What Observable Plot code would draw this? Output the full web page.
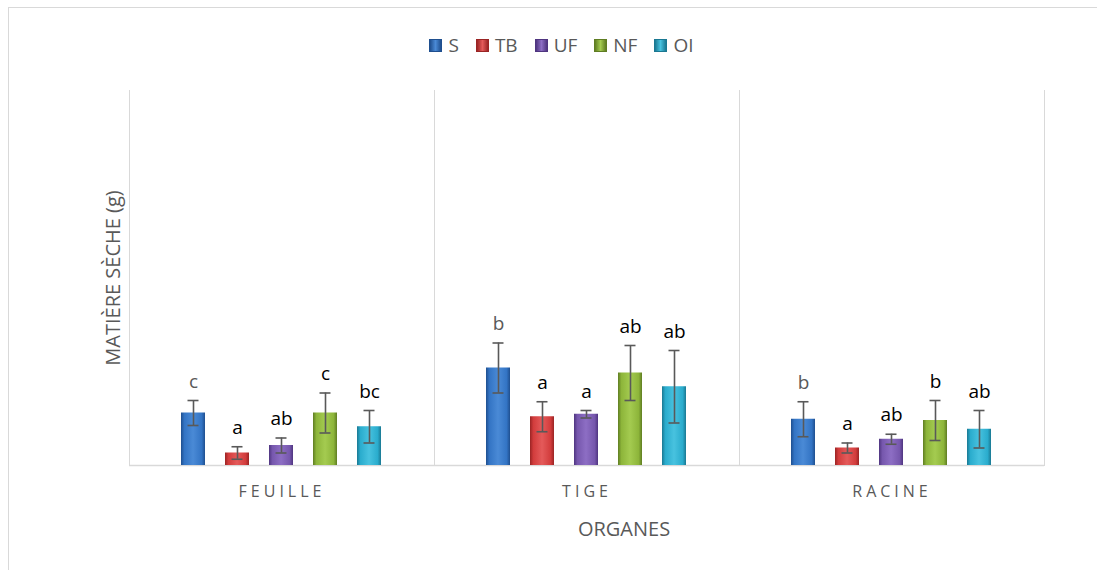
<!DOCTYPE html>
<html><head><meta charset="utf-8">
<script src="https://cdn.jsdelivr.net/npm/d3@7"></script>
<script src="https://cdn.jsdelivr.net/npm/@observablehq/plot@0.6"></script>
<style>
body{margin:0;background:#fff;font-family:"Open Sans",sans-serif;overflow:hidden;}
#wrap{position:relative;width:1097px;height:570px;overflow:hidden;}
#border{position:absolute;left:8px;top:7px;width:1300px;height:800px;border:1px solid #d9d9d9;box-sizing:border-box;}
#legend{position:absolute;top:33px;left:0;width:1123px;height:24px;display:flex;justify-content:center;align-items:center;gap:17px;font-size:19px;color:#595959;}
#legend .item{display:flex;align-items:center;gap:6px;}
#legend .sw{width:13px;height:13px;box-sizing:border-box;}
#chart{position:absolute;top:70px;left:0;}
#ylab{position:absolute;left:112px;top:278px;transform:translate(-50%,-50%) rotate(-90deg);white-space:nowrap;font-size:20px;color:#595959;}
#xlab{position:absolute;left:624px;top:528px;transform:translate(-50%,-50%);white-space:nowrap;font-size:20px;color:#595959;}
g[aria-label="fx-axis tick label"]{font-size:16px;letter-spacing:4px;fill:#595959;font-family:"Open Sans",sans-serif;}
</style>
</head><body>
<div id="wrap">
  <div id="border"></div>
  <div id="legend"></div>
  <div id="chart"></div>
  <div id="ylab">MATIÈRE SÈCHE (g)</div>
  <div id="xlab">ORGANES</div>
</div>
<script>
// Data (order: FEUILLE, TIGE, RACINE)
const organes = ["FEUILLE", "TIGE", "RACINE"];
const series = ["S", "TB", "UF", "NF", "OI"];
const meanS  = [0.42, 0.78, 0.37];
const meanTB = [0.10, 0.39, 0.14];
const meanUF = [0.16, 0.41, 0.21];
const meanNF = [0.42, 0.74, 0.36];
const meanOI = [0.31, 0.63, 0.29];
const errS  = [0.10, 0.20, 0.14];
const errTB = [0.05, 0.12, 0.04];
const errUF = [0.06, 0.03, 0.04];
const errNF = [0.16, 0.22, 0.16];
const errOI = [0.13, 0.29, 0.15];
const letS  = ["c", "b", "b"];
const letTB = ["a", "a", "a"];
const letUF = ["ab", "a", "ab"];
const letNF = ["c", "ab", "b"];
const letOI = ["bc", "ab", "ab"];

const means = {S: meanS, TB: meanTB, UF: meanUF, NF: meanNF, OI: meanOI};
const errs = {S: errS, TB: errTB, UF: errUF, NF: errNF, OI: errOI};
const lets = {S: letS, TB: letTB, UF: letUF, NF: letNF, OI: letOI};

const colors = {
  S:  {dark: "#1f4f8f", base: "#3374c4", light: "#4a8ad6"},
  TB: {dark: "#9a2424", base: "#d23c3c", light: "#e45a5a"},
  UF: {dark: "#4f3580", base: "#7657ad", light: "#8d6ec4"},
  NF: {dark: "#5f7d22", base: "#8db53a", light: "#a4cb50"},
  OI: {dark: "#1a7892", base: "#2aaccd", light: "#48c2df"}
};
const labelColor = {S: "#595959", TB: "#000", UF: "#000", NF: "#000", OI: "#000"};

const rows = [];
for (const s of series) organes.forEach((o, i) => rows.push({
  organe: o, series: s, value: means[s][i], err: errs[s][i], letter: lets[s][i]
}));

const marks = [
  Plot.frame({anchor: "left", stroke: "#d9d9d9"}),
  Plot.frame({anchor: "right", stroke: "#d9d9d9"}),
  Plot.ruleY([0], {stroke: "#d9d9d9", strokeWidth: 1.5})
];
for (const s of series) {
  const d = rows.filter(r => r.series === s);
  marks.push(Plot.barY(d, {fx: "organe", x: "series", y: "value", fill: `url(#grad-${s})`}));
}
marks.push(
  Plot.ruleX(rows, {fx: "organe", x: "series", y1: d => d.value - d.err, y2: d => d.value + d.err, stroke: "#595959", strokeWidth: 1.6}),
  Plot.tickY(rows, {fx: "organe", x: "series", y: d => d.value - d.err, stroke: "#595959", strokeWidth: 1.6, insetLeft: 6.5, insetRight: 6.5}),
  Plot.tickY(rows, {fx: "organe", x: "series", y: d => d.value + d.err, stroke: "#595959", strokeWidth: 1.6, insetLeft: 6.5, insetRight: 6.5})
);
for (const s of series) {
  const d = rows.filter(r => r.series === s);
  marks.push(Plot.text(d, {fx: "organe", x: "series", y: r => r.value + r.err, text: "letter",
    lineAnchor: "bottom", dy: -13, fontSize: 19, fill: labelColor[s], fontFamily: "Open Sans"}));
}

const chart = Plot.plot({
  width: 1097, height: 500,
  marginTop: 20, marginBottom: 105, marginLeft: 128, marginRight: 53,
  fx: {domain: organes, padding: 0, label: null, tickSize: 0, tickPadding: 20, axis: "bottom"},
  x: {domain: series, paddingInner: 0.45, paddingOuter: 1.13, axis: null},
  y: {domain: [0, 3], axis: null},
  marks
});

const defs = d3.select(chart).insert("defs", ":first-child");
for (const s of series) {
  const c = colors[s];
  const g = defs.append("linearGradient").attr("id", `grad-${s}`).attr("x1", 0).attr("x2", 1).attr("y1", 0).attr("y2", 0);
  [[0, c.dark], [0.14, c.base], [0.5, c.light], [0.86, c.base], [1, c.dark]].forEach(([o, col]) =>
    g.append("stop").attr("offset", o).attr("stop-color", col));
}
document.getElementById("chart").appendChild(chart);

const legend = d3.select("#legend");
for (const s of series) {
  const c = colors[s];
  const it = legend.append("div").attr("class", "item");
  it.append("div").attr("class", "sw")
    .style("background", `linear-gradient(to right, ${c.dark}, ${c.light} 50%, ${c.dark})`)
    .style("border", `1px solid ${c.dark}`);
  it.append("span").text(s);
}
</script>
</body></html>
